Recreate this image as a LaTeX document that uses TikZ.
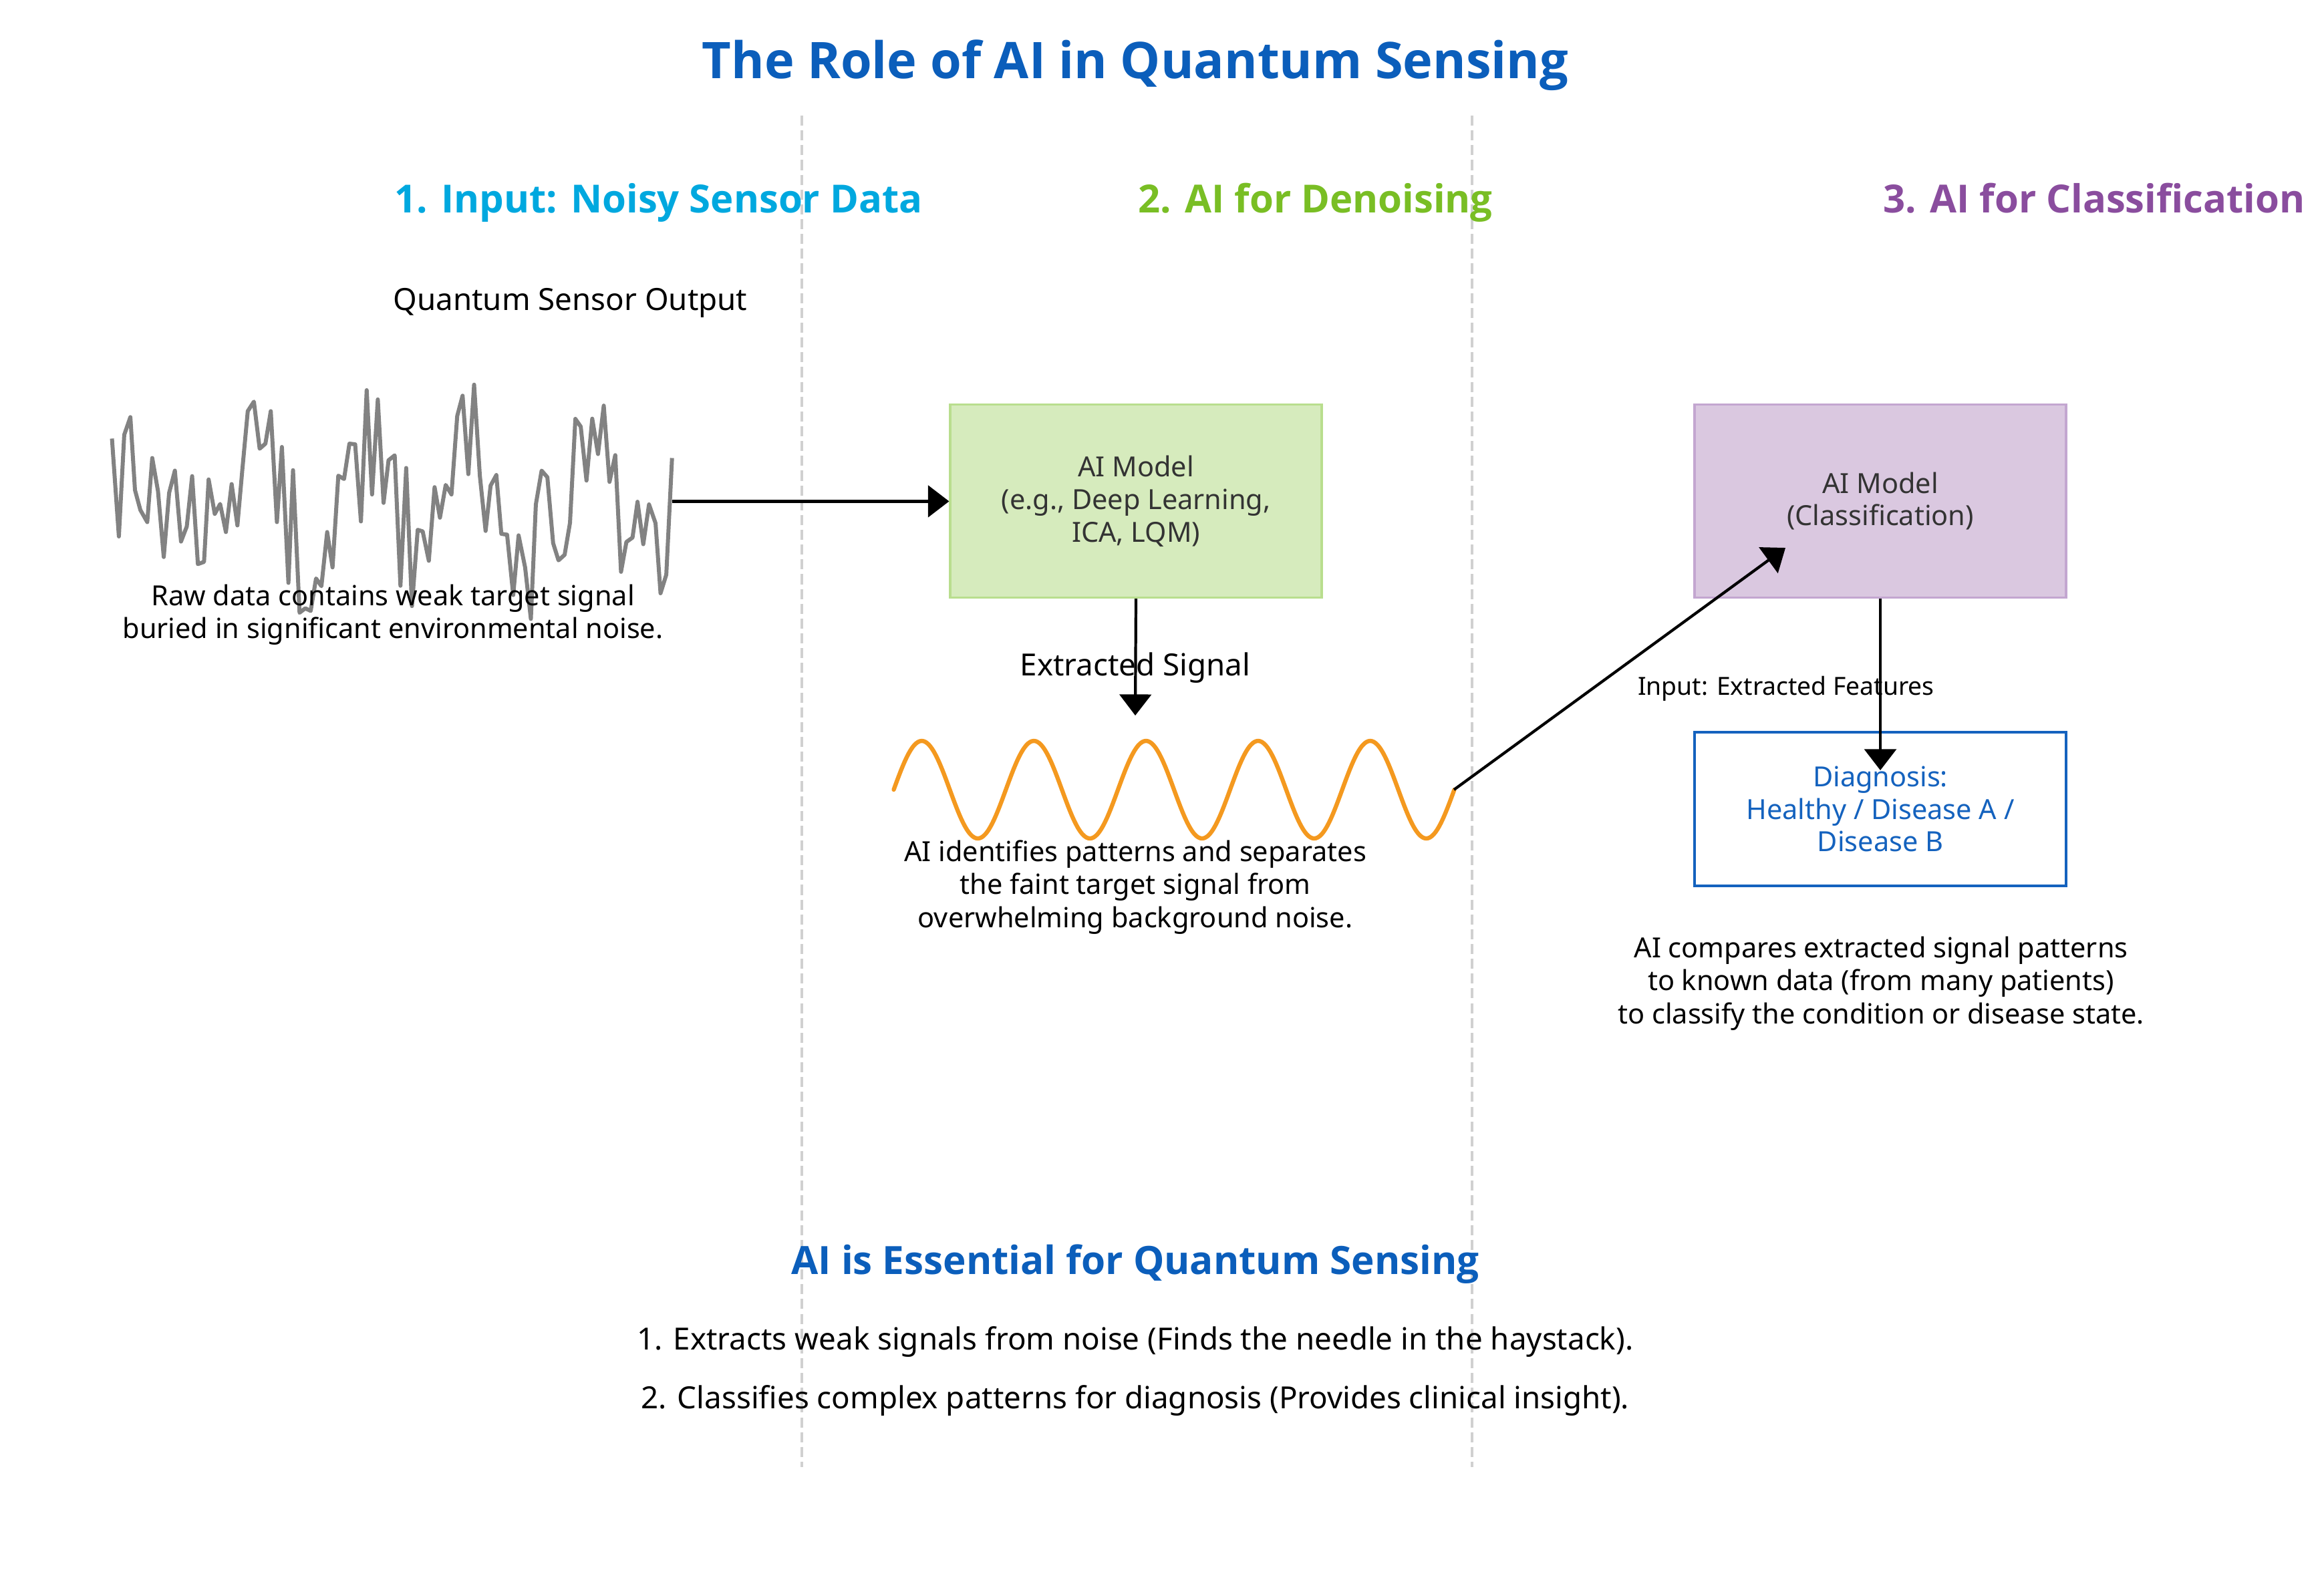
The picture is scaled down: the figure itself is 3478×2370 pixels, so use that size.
\documentclass[tikz,border=0pt]{standalone}
\usepackage{fontspec}
\setmainfont{Noto Sans}
\newfontfamily\boldsans{Open Sans}
\usetikzlibrary{arrows.meta}
\definecolor{titleblue}{HTML}{0B5EBB}
\definecolor{hdrone}{HTML}{00A8DF}
\definecolor{hdrtwo}{HTML}{79BE24}
\definecolor{hdrthree}{HTML}{8A4D9E}
\definecolor{noisegray}{HTML}{828282}
\definecolor{waveorange}{HTML}{F4991F}
\definecolor{greenfill}{HTML}{D6EBBD}
\definecolor{greenedge}{HTML}{B9DE8E}
\definecolor{purplefill}{HTML}{DAC8E0}
\definecolor{purpleedge}{HTML}{C3A6D0}
\definecolor{diagblue}{HTML}{1462BE}
\definecolor{boxtext}{HTML}{333333}
\definecolor{divgray}{HTML}{D0D0D0}
\tikzset{
  titletext/.style={font=\boldsans\bfseries\fontsize{21.5}{26}\selectfont, text=titleblue, anchor=base, inner sep=0pt},
  hdrtext/.style={font=\boldsans\bfseries\fontsize{16.5}{19}\selectfont, anchor=base west, inner sep=0pt},
  bodytext/.style={font=\fontsize{11.8}{14.1}\selectfont, align=center, inner sep=0pt},
  bigtext/.style={font=\fontsize{13}{15}\selectfont, inner sep=0pt},
  smalltext/.style={font=\fontsize{10.6}{12}\selectfont, inner sep=0pt},
  modelbox/.style={draw, line width=0.9pt, minimum width=556*0.1mm, minimum height=289*0.1mm,
     align=center, text=boxtext, font=\fontsize{11.8}{13.9}\selectfont, inner sep=0pt},
  divider/.style={draw=divgray, line width=0.9pt, dash pattern=on 4.3pt off 2pt},
  conn/.style={draw=black, line width=1.2pt, -{Triangle[length=9pt,width=13.5pt]}},
}
\begin{document}
\begin{tikzpicture}[x=0.1mm, y=-0.1mm]
\useasboundingbox[fill=white] (0,0) rectangle (3478,2370);

% title
\node[titletext] (title) at (1699,117) {The Role of AI in Quantum Sensing};

% dividers
\draw[divider] (1200,173) -- (1200,2196);
\draw[divider] (2203,173) -- (2203,2196);

% headers
\node[hdrtext, text=hdrone] (h1) at (590,318) {1. Input: Noisy Sensor Data};
\node[hdrtext, text=hdrtwo] (h2) at (1703,318) {2. AI for Denoising};
\node[hdrtext, text=hdrthree] (h3) at (2818,318) {3. AI for Classification};

% column 1
\node[bigtext, anchor=west] (qso) at (588,453) {Quantum Sensor Output};

\begin{scope}[shift={(140,540)}, xscale=0.5741, yscale=0.3308]
\draw[noisegray, line width=1.7pt, line join=round]
 (48,352) -- (66,795) -- (80,335) -- (96,255) -- (108,585) -- (122,675) -- (140,730) -- (153,440)
 -- (168,590) -- (183,888) -- (197,598) -- (212,497) -- (228,818) -- (243,750) -- (257,522)
 -- (272,920) -- (288,910) -- (300,537) -- (316,693) -- (330,648) -- (345,775) -- (360,558)
 -- (375,745) -- (388,490) -- (402,228) -- (418,185) -- (433,398) -- (448,375) -- (462,228)
 -- (478,730) -- (491,390) -- (508,1005) -- (520,495) -- (537,1140) -- (552,1120) -- (566,1132)
 -- (580,985) -- (594,1020) -- (609,775) -- (623,935) -- (638,520) -- (653,535) -- (667,375)
 -- (682,378) -- (697,727) -- (712,133) -- (726,605) -- (741,175) -- (756,643) -- (769,450)
 -- (785,428) -- (800,1018) -- (815,485) -- (830,1110) -- (845,765) -- (858,772) -- (874,905)
 -- (889,572) -- (903,710) -- (918,562) -- (933,605) -- (948,250) -- (962,158) -- (977,513)
 -- (992,108) -- (1007,520) -- (1022,770) -- (1035,565) -- (1050,517) -- (1063,783) -- (1078,787)
 -- (1094,1060) -- (1108,790) -- (1125,935) -- (1140,1168) -- (1153,650) -- (1168,497)
 -- (1183,527) -- (1198,825) -- (1212,903) -- (1228,878) -- (1242,733) -- (1256,263) -- (1270,298)
 -- (1285,542) -- (1300,262) -- (1315,422) -- (1330,203) -- (1345,548) -- (1360,427) -- (1375,955)
 -- (1389,820) -- (1405,800) -- (1418,638) -- (1433,830) -- (1448,650) -- (1465,735) -- (1478,1052)
 -- (1493,968) -- (1508,440);
\coordinate (noiseend) at (1508,636);
\end{scope}

\node[bodytext] (raw) at (588,920) {Raw data contains weak target signal\\buried in significant environmental noise.};

% column 2
\node[modelbox, draw=greenedge, fill=greenfill] (den) at (1700,750) {AI Model\\(e.g., Deep Learning,\\ICA, LQM)};
\draw[conn] (noiseend) -- (noiseend -| den.west);

\node[bigtext] (ext) at (1699,1000) {Extracted Signal};
\coordinate (sigtop) at (1699,1071);
\draw[conn] (den.south) -- (sigtop);

\draw[waveorange, line width=1.8pt, line cap=round]
  plot[domain=0:1800, samples=301, smooth] ({1337.5+\x*0.4661},{1182-73*sin(\x)});
\coordinate (waveend) at (2176,1182);

\node[bodytext] (sep) at (1699,1328) {AI identifies patterns and separates\\the faint target signal from\\overwhelming background noise.};

% column 3
\node[modelbox, draw=purpleedge, fill=purplefill] (cls) at (2814,750) {AI Model\\(Classification)};
\coordinate (clstip) at (2672,820);
\draw[conn] (waveend) -- (clstip);

\node[smalltext] (feat) at (2673,1031) {Input: Extracted Features};

\node[draw=diagblue, line width=1pt, fill=white, minimum width=556*0.1mm, minimum height=230*0.1mm,
      align=center, text=diagblue, font=\fontsize{11.8}{13.7}\selectfont, inner sep=0pt] (diag) at (2814,1211)
      {Diagnosis:\\Healthy / Disease A /\\Disease B};
\coordinate (diagtip) at (2814,1153);
\draw[conn, line width=1.35pt] (cls.south) -- (diagtip);

\node[bodytext] (cmp) at (2815,1472) {AI compares extracted signal patterns\\to known data (from many patients)\\to classify the condition or disease state.};

% bottom summary
\node[font=\boldsans\bfseries\fontsize{16.6}{19}\selectfont, text=titleblue, anchor=base, inner sep=0pt] (ess) at (1699,1907) {AI is Essential for Quantum Sensing};
\node[bigtext] (p1) at (1699,2008) {1. Extracts weak signals from noise (Finds the needle in the haystack).};
\node[bigtext] (p2) at (1699,2096) {2. Classifies complex patterns for diagnosis (Provides clinical insight).};
\end{tikzpicture}
\end{document}
